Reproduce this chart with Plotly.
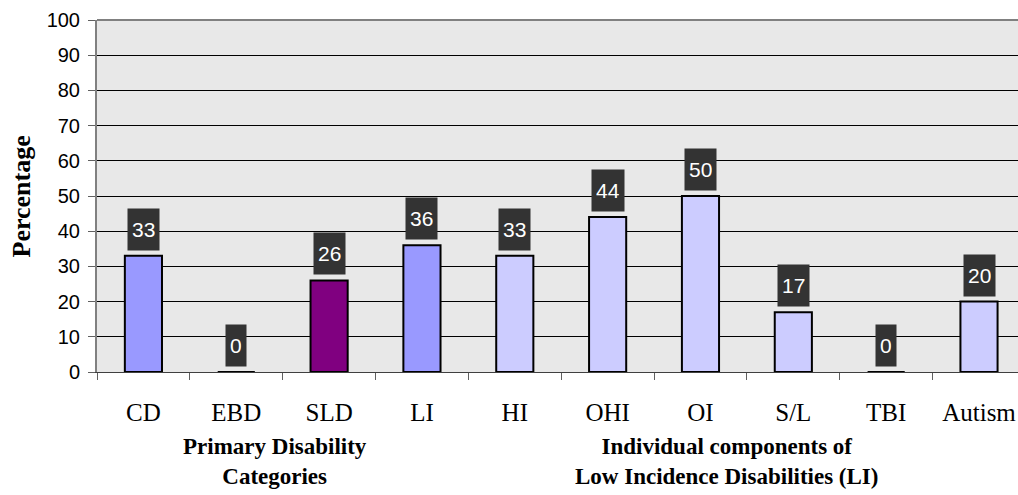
import plotly.graph_objects as go

categories = ["CD", "EBD", "SLD", "LI", "HI", "OHI", "OI", "S/L", "TBI", "Autism"]
values = [33, 0, 26, 36, 33, 44, 50, 17, 0, 20]
bar_colors = ["#9999FF", "#9999FF", "#800080", "#9999FF", "#CCCCFF",
              "#CCCCFF", "#CCCCFF", "#CCCCFF", "#CCCCFF", "#CCCCFF"]
y_ticks = list(range(0, 101, 10))
group_titles = ["Primary Disability<br>Categories",
                "Individual components of<br>Low Incidence Disabilities (LI)"]
group_centers = [1.42, 6.28]

fig = go.Figure()
fig.add_trace(go.Bar(
    x=categories, y=values, width=0.4,
    marker=dict(color=bar_colors, line=dict(color="black", width=2)),
    hoverinfo="skip",
))

annotations = []
for c, v in zip(categories, values):
    annotations.append(dict(
        x=c, y=v, xref="x", yref="y", text=str(v), showarrow=False,
        yanchor="bottom", xanchor="center", yshift=5,
        font=dict(family="Liberation Sans, Arial", size=21, color="white"),
        bgcolor="#333333", height=33, borderpad=4,
    ))
for t, xc in zip(group_titles, group_centers):
    annotations.append(dict(
        x=xc, y=-0.17, xref="x", yref="paper", text="<b>" + t + "</b>",
        showarrow=False, xanchor="center", yanchor="top", align="center",
        font=dict(family="Liberation Serif, Times New Roman", size=23, color="black"),
    ))
annotations.append(dict(
    x=-0.082, y=0.5, xref="paper", yref="paper", text="<b>Percentage</b>",
    showarrow=False, textangle=-90, xanchor="center", yanchor="middle",
    font=dict(family="Liberation Serif, Times New Roman", size=26, color="black"),
))

fig.update_layout(
    width=1018, height=495,
    margin=dict(l=97, r=0, t=20, b=123),
    paper_bgcolor="white", plot_bgcolor="#E8E8E8",
    showlegend=False, bargap=0.6,
    annotations=annotations,
    shapes=[dict(type="line", xref="paper", yref="paper", x0=0, x1=1, y0=1, y1=1,
                 line=dict(color="#808080", width=2))],
)
fig.update_xaxes(
    type="category", range=[-0.5, 9.42], automargin=False,
    tickson="boundaries", ticks="outside", ticklen=7, tickcolor="#606060",
    ticklabelstandoff=18,
    showgrid=False, showline=True, linecolor="#404040", linewidth=1,
    tickfont=dict(family="Liberation Serif, Times New Roman", size=25, color="black"),
    fixedrange=True,
)
fig.update_yaxes(
    range=[0, 100], tickvals=y_ticks, ticks="outside", ticklen=7, tickcolor="#606060",
    automargin=False, ticklabelstandoff=4,
    showgrid=True, gridcolor="black", gridwidth=1,
    showline=True, linecolor="#808080", linewidth=2, zeroline=False,
    tickfont=dict(family="Liberation Sans, Arial", size=20, color="black"),
    fixedrange=True,
)

fig.write_html(
    "out.html",
    config={"displayModeBar": False},
    post_script="document.body.style.margin='0';document.body.style.overflow='hidden';",
)
